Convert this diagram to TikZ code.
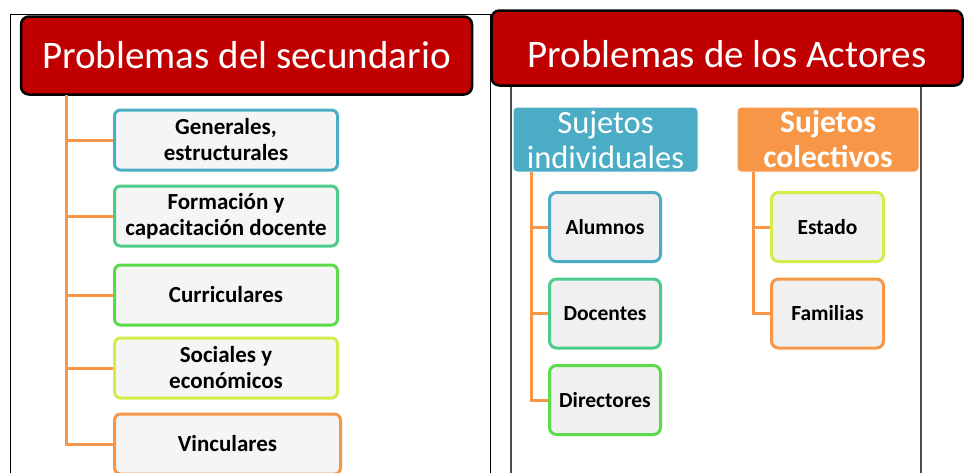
\documentclass[tikz,border=0pt]{standalone}
\usepackage{fontspec}
\setmainfont{Carlito}
\definecolor{tred}{HTML}{C00000}
\definecolor{cblue}{HTML}{4BACC6}
\definecolor{cteal}{HTML}{4CCB8A}
\definecolor{cgreen}{HTML}{5CDB4A}
\definecolor{cyell}{HTML}{D4EB4A}
\definecolor{corange}{HTML}{F79646}
\definecolor{boxfill}{HTML}{F5F5F5}
\definecolor{subfill}{HTML}{F0F0F0}
\begin{document}
\begin{tikzpicture}[x=1pt,y=-1pt,
  titlebox/.style={draw=black,line width=2.5pt,fill=tred,rounded corners=8pt,text=white,
    font=\fontsize{39}{44}\selectfont,inner sep=0pt},
  titletext/.style={text=white,font=\fontsize{39}{44}\selectfont,inner sep=0pt},
  lbox/.style={draw=#1,line width=3pt,fill=boxfill,rounded corners=6pt,minimum width=223pt,
    minimum height=60pt,align=center,font=\bfseries\fontsize{23}{26}\selectfont,inner sep=0pt},
  sbox/.style={draw=#1,line width=3pt,fill=subfill,rounded corners=7pt,minimum width=111pt,
    minimum height=69pt,align=center,font=\bfseries\fontsize{21.5}{24}\selectfont,inner sep=0pt},
  hbox/.style={fill=#1,draw=white,line width=1pt,rounded corners=4pt,minimum height=65pt,
    align=center,text=white,inner sep=0pt},
  conn/.style={draw=corange,line width=3pt}]
\useasboundingbox (0,0) rectangle (964,472);
% frames
\draw[black,line width=1pt] (10,480) -- (10,14) -- (490,14) -- (490,480);
\draw[black!70,line width=1.3pt] (511,480) -- (511,80) -- (921,80) -- (921,480);
% titles
\node[titlebox,minimum width=451pt,minimum height=78pt] (t1) at (246.5,55.5) {Problemas del secundario};
\node[titlebox,minimum width=471pt,minimum height=75pt] (t2) at (727,48) {};
\node[titletext] (t2txt) at ([yshift=-6pt]t2.center) {Problemas de los Actores};
% left boxes
\node[lbox=cblue] (b1) at (226,140) {Generales,\\estructurales};
\node[lbox=cteal] (b2) at (226,216) {Formación y\\capacitación\ docente};
\node[lbox=cgreen] (b3) at (226,295) {Curriculares};
\node[lbox=cyell] (b4) at (226,368) {Sociales y\\económicos};
\node[lbox=corange,minimum width=226pt] (b5) at (227.5,444) {Vinculares};
\coordinate (v1) at (66,95);
\draw[conn] (v1) |- (b5.west);
\foreach \b in {b1,b2,b3,b4}{\draw[conn] (v1 |- \b.west) -- (\b.west);}
% right headers
\node[hbox=cblue,minimum width=185pt,font=\fontsize{32.5}{35}\selectfont] (h1) at (605.5,139.5) {Sujetos\\individuales};
\node[hbox=corange,minimum width=182pt,font=\bfseries\fontsize{31.5}{35}\selectfont] (h2) at (828,139.5) {Sujetos\\colectivos};
% right boxes
\node[sbox=cblue] (s1) at (605,227) {Alumnos};
\node[sbox=cteal] (s2) at (605,313.5) {Docentes};
\node[sbox=cgreen] (s3) at (605,400) {Directores};
\node[sbox=cyell,minimum width=112pt] (s4) at (827.5,227) {Estado};
\node[sbox=corange,minimum width=112pt] (s5) at (827.5,313.5) {Familias};
\coordinate (v2) at (531,172);
\coordinate (v3) at (753,172);
\draw[conn] (v2) |- (s3.west);
\draw[conn] (v2 |- s1.west) -- (s1.west);
\draw[conn] (v2 |- s2.west) -- (s2.west);
\draw[conn] (v3) |- (s5.west);
\draw[conn] (v3 |- s4.west) -- (s4.west);
\end{tikzpicture}
\end{document}
